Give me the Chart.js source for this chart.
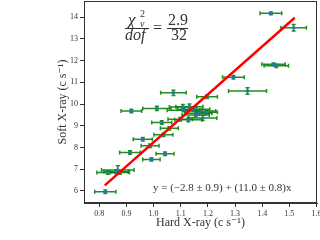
<!DOCTYPE html>
<html>
<head>
<meta charset="utf-8">
<script src="https://cdn.jsdelivr.net/npm/chart.js@4/dist/chart.umd.min.js"></script>
<style>
  body { margin: 0; background: #fff; }
  canvas { display: block; }
</style>
</head>
<body>
<canvas id="myChart" width="320" height="240"></canvas>
<script>
// hard X-ray rate, its error, soft X-ray rate, its error
const hardRate = [1.432, 1.516, 1.442, 1.452, 1.294, 1.346, 1.073, 1.197, 0.918, 1.012,
  1.108, 1.132, 1.110, 1.147, 1.165, 1.174, 1.181, 1.128, 1.098, 1.030,
  1.058, 1.036, 0.960, 0.987, 0.913, 1.042, 0.992, 0.831, 0.862, 0.868,
  0.876, 0.822, 1.155, 1.195];
const hardErr = [0.040, 0.047, 0.043, 0.045, 0.040, 0.070, 0.047, 0.038, 0.038, 0.052,
  0.050, 0.050, 0.060, 0.060, 0.050, 0.055, 0.052, 0.050, 0.045, 0.037,
  0.033, 0.035, 0.035, 0.033, 0.038, 0.033, 0.032, 0.040, 0.045, 0.060,
  0.035, 0.039, 0.050, 0.040];
const softRate = [14.18, 13.52, 11.83, 11.76, 11.24, 10.60, 10.52, 10.34, 9.68, 9.80,
  9.86, 9.88, 9.72, 9.76, 9.58, 9.68, 9.36, 9.28, 9.30, 9.15,
  8.88, 8.58, 8.38, 8.08, 7.77, 7.71, 7.45, 6.85, 6.88, 6.96,
  6.85, 5.96, 9.50, 9.62];
const softErr = [0.06, 0.15, 0.06, 0.08, 0.08, 0.15, 0.12, 0.08, 0.08, 0.10,
  0.12, 0.12, 0.08, 0.08, 0.08, 0.08, 0.12, 0.10, 0.08, 0.08,
  0.08, 0.08, 0.08, 0.08, 0.08, 0.08, 0.08, 0.08, 0.08, 0.20,
  0.08, 0.08, 0.08, 0.08];

// straight-line fit end points
const fitX = [0.82, 1.52];
const fitY = [6.25, 13.98];

const xTicks = [0.8, 0.9, 1.0, 1.1, 1.2, 1.3, 1.4, 1.5, 1.6];
const yTicks = [6, 7, 8, 9, 10, 11, 12, 13, 14];

const points = hardRate.map((x, i) => ({ x: x, y: softRate[i] }));
const fitLine = fitX.map((x, i) => ({ x: x, y: fitY[i] }));

const serif = "'Liberation Serif', 'DejaVu Serif', serif";
const ink = "#333";

// error bars under the markers
const errorBars = {
  id: "errorBars",
  beforeDatasetsDraw(chart) {
    const c = chart.ctx;
    const xs = chart.scales.x, ys = chart.scales.y;
    c.save();
    c.strokeStyle = "rgba(10,130,10,0.9)";
    c.lineWidth = 1.5;
    hardRate.forEach((v, i) => {
      const px = xs.getPixelForValue(v), py = ys.getPixelForValue(softRate[i]);
      const x0 = xs.getPixelForValue(v - hardErr[i]), x1 = xs.getPixelForValue(v + hardErr[i]);
      const y0 = ys.getPixelForValue(softRate[i] - softErr[i]), y1 = ys.getPixelForValue(softRate[i] + softErr[i]);
      c.beginPath();
      c.moveTo(x0, py); c.lineTo(x1, py);
      c.moveTo(x0, py - 2); c.lineTo(x0, py + 2);
      c.moveTo(x1, py - 2); c.lineTo(x1, py + 2);
      c.moveTo(px, y0); c.lineTo(px, y1);
      c.moveTo(px - 2, y0); c.lineTo(px + 2, y0);
      c.moveTo(px - 2, y1); c.lineTo(px + 2, y1);
      c.stroke();
    });
    c.restore();
  }
};

// frame, axis titles and annotations
const labels = {
  id: "labels",
  afterDraw(chart) {
    const c = chart.ctx;
    const a = chart.chartArea;
    c.save();
    c.strokeStyle = ink;
    c.lineWidth = 1;
    c.strokeRect(a.left + 0.5, a.top + 0.5, a.right - a.left - 1, a.bottom - a.top - 1);

    c.fillStyle = ink;
    c.textBaseline = "alphabetic";

    // x title
    c.font = "12px " + serif;
    c.textAlign = "center";
    c.fillText("Hard X-ray (c s\u207B\u00B9)", (a.left + a.right) / 2, 226);

    // y title
    c.save();
    c.translate(66, (a.top + a.bottom) / 2);
    c.rotate(-Math.PI / 2);
    c.fillText("Soft X-ray (c s\u207B\u00B9)", 0, 0);
    c.restore();

    // reduced chi-square fraction
    c.textAlign = "left";
    c.font = "italic 17px " + serif;
    c.fillText("\u03C7", 128, 25);
    c.font = "italic 10px " + serif;
    c.fillText("\u03BD", 140, 27);
    c.font = "10px " + serif;
    c.fillText("2", 140, 17);
    c.font = "italic 16px " + serif;
    c.fillText("dof", 125, 40);
    c.fillRect(125, 28, 24, 1);
    c.font = "16px " + serif;
    c.fillText("=", 153, 33);
    c.fillText("2.9", 168, 25);
    c.fillText("32", 171, 40);
    c.fillRect(167, 28, 21, 1);

    // fit equation
    c.font = "11px " + serif;
    c.fillText("y = (\u22122.8 \u00B1 0.9) + (11.0 \u00B1 0.8)x", 153, 191);
    c.restore();
  }
};

function noPad(s) {
  s.paddingTop = 0; s.paddingBottom = 0; s.paddingLeft = 0; s.paddingRight = 0;
}

const ctx = document.getElementById("myChart");

new Chart(ctx, {
  type: "scatter",
  data: {
    datasets: [
      {
        type: "line",
        data: fitLine,
        borderColor: "#ff0000",
        borderWidth: 2.5,
        pointRadius: 0,
        fill: false,
        order: 0
      },
      {
        data: points,
        backgroundColor: "#1f77b4",
        borderColor: "#1f77b4",
        pointRadius: 1.8,
        borderWidth: 0,
        order: 1
      }
    ]
  },
  options: {
    responsive: false,
    animation: false,
    devicePixelRatio: 1,
    layout: { autoPadding: false, padding: { top: 1, right: 3, left: 0, bottom: 0 } },
    plugins: { legend: { display: false }, tooltip: { enabled: false } },
    scales: {
      x: {
        type: "linear",
        min: 0.7435,
        max: 1.602,
        afterBuildTicks: s => { s.ticks = xTicks.map(v => ({ value: v })); },
        afterFit: s => { s.height = 37; noPad(s); },
        grid: { drawOnChartArea: false, tickLength: 4, color: ink },
        border: { color: ink },
        ticks: {
          color: ink, padding: 2, maxRotation: 0, autoSkip: false,
          font: { family: serif, size: 8 },
          callback: v => v.toFixed(1)
        }
      },
      y: {
        type: "linear",
        min: 5.44,
        max: 14.75,
        afterBuildTicks: s => { s.ticks = yTicks.map(v => ({ value: v })); },
        afterFit: s => { s.width = 84; noPad(s); },
        grid: { drawOnChartArea: false, tickLength: 4, color: ink },
        border: { color: ink },
        ticks: {
          color: ink, padding: 2, autoSkip: false,
          font: { family: serif, size: 8 }
        }
      }
    }
  },
  plugins: [errorBars, labels]
});
</script>
</body>
</html>
